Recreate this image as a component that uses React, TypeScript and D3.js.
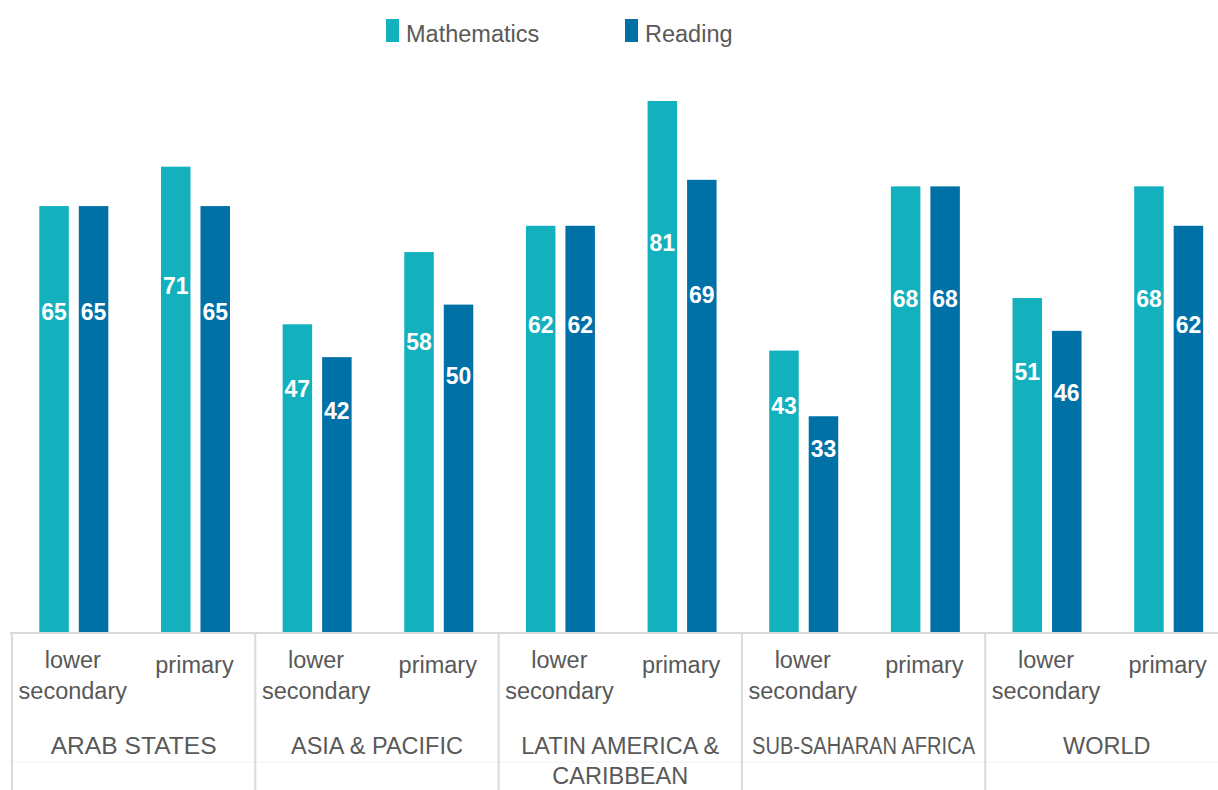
import * as d3 from 'd3';
import React, { useRef, useEffect } from 'react';

const regions = ['ARAB STATES', 'ASIA & PACIFIC', 'LATIN AMERICA & CARIBBEAN', 'SUB-SAHARAN AFRICA', 'WORLD'];
const regionLines = [['ARAB STATES'], ['ASIA & PACIFIC'], ['LATIN AMERICA &', 'CARIBBEAN'], ['SUB-SAHARAN AFRICA'], ['WORLD']];
const levels = ['lower secondary', 'primary'];
const levelLines = [['lower', 'secondary'], ['primary']];
const series = ['Mathematics', 'Reading'];
const colors = ['#13b1bd', '#0071a7'];

// values per region: [lower secondary, primary]
const mathematics = [[65, 71], [47, 58], [62, 81], [43, 68], [51, 68]];
const reading = [[65, 65], [42, 50], [62, 69], [33, 68], [46, 62]];

const W = 1218;
const H = 790;
const textColor = '#595959';
const gridColor = '#d9d9d9';
const font = '"Liberation Sans", Arial, sans-serif';

const Chart = () => {
    const ref = useRef();

    useEffect(() => {
        const svg = d3.select(ref.current);
        svg.selectAll('*').remove();

        const baseY = 633;
        const left = 12;
        const groupW = 243.3;

        const x = d3.scaleBand().domain(regions).range([left, left + groupW * regions.length]);
        const xSub = d3.scaleBand().domain(levels).range([0, groupW]);
        const y = d3.scaleLinear().domain([0, 81]).range([baseY, 101]);

        // bars
        const rows = [];
        regions.forEach((r, i) => {
            levels.forEach((l, j) => {
                const c = x(r) + xSub(l) + xSub.bandwidth() / 2 + 1;
                const xs = d3.scaleBand().domain(series).range([c - 34.5, c + 34.5]).paddingInner(0.253);
                [mathematics, reading].forEach((s, k) => {
                    rows.push({ x: xs(series[k]), w: xs.bandwidth(), v: s[i][j], color: colors[k] });
                });
            });
        });

        const g = svg.append('g');
        g.selectAll('rect.bar')
            .data(rows)
            .enter().append('rect')
            .attr('class', 'bar')
            .attr('x', d => d.x)
            .attr('width', d => d.w)
            .attr('y', d => y(d.v))
            .attr('height', d => baseY - y(d.v))
            .attr('fill', d => d.color);

        g.selectAll('text.val')
            .data(rows)
            .enter().append('text')
            .attr('class', 'val')
            .attr('x', d => d.x + d.w / 2)
            .attr('y', d => y(d.v * 0.654 + 5.8) - 2)
            .attr('text-anchor', 'middle')
            .attr('dominant-baseline', 'middle')
            .attr('fill', '#fff')
            .attr('font-weight', 'bold')
            .attr('font-size', 23)
            .attr('font-family', font)
            .text(d => d.v);

        // axis lines
        svg.append('line')
            .attr('x1', 10).attr('x2', W)
            .attr('y1', baseY).attr('y2', baseY)
            .attr('stroke', gridColor).attr('stroke-width', 2);
        svg.append('line')
            .attr('x1', 10).attr('x2', W)
            .attr('y1', 762).attr('y2', 762)
            .attr('stroke', '#f3f3f3').attr('stroke-width', 1);
        const seps = regions.map(r => x(r)).concat([x(regions[regions.length - 1]) + groupW]);
        svg.selectAll('line.sep')
            .data(seps)
            .enter().append('line')
            .attr('class', 'sep')
            .attr('x1', d => d).attr('x2', d => d)
            .attr('y1', baseY).attr('y2', H)
            .attr('stroke', gridColor).attr('stroke-width', 2);

        // level labels
        regions.forEach(r => {
            levels.forEach((l, j) => {
                const cx = x(r) + xSub(l) + xSub.bandwidth() / 2;
                const lines = levelLines[j];
                const t = svg.append('text')
                    .attr('text-anchor', 'middle')
                    .attr('fill', textColor)
                    .attr('font-size', 23.5)
                    .attr('font-family', font);
                lines.forEach((ln, k) => {
                    t.append('tspan')
                        .attr('x', cx)
                        .attr('y', lines.length === 1 ? 673 : 668 + k * 31)
                        .text(ln);
                });
            });
        });

        // region labels
        regions.forEach((r, i) => {
            const cx = x(r) + groupW / 2;
            regionLines[i].forEach((ln, k) => {
                const t = svg.append('text')
                    .attr('x', cx)
                    .attr('y', 754 + k * 30)
                    .attr('text-anchor', 'middle')
                    .attr('fill', textColor)
                    .attr('font-size', 23.5)
                    .attr('font-family', font)
                    .text(ln);
                if (r === 'SUB-SAHARAN AFRICA') {
                    t.attr('textLength', 223).attr('lengthAdjust', 'spacingAndGlyphs');
                }
                if (r === 'ARAB STATES') {
                    t.attr('textLength', 166).attr('lengthAdjust', 'spacingAndGlyphs');
                }
            });
        });

        // legend
        const legendX = [386, 625];
        const leg = svg.selectAll('g.leg')
            .data(series)
            .enter().append('g')
            .attr('class', 'leg')
            .attr('transform', (d, i) => `translate(${legendX[i]}, 0)`);
        leg.append('rect')
            .attr('x', 0).attr('y', 19)
            .attr('width', 13).attr('height', 23)
            .attr('fill', (d, i) => colors[i]);
        leg.append('text')
            .attr('x', 20).attr('y', 42)
            .attr('fill', textColor)
            .attr('font-size', 23.5)
            .attr('font-family', font)
            .text(d => d);
    }, []);

    return (
        <svg ref={ref} width={W} height={H} style={{ position: 'absolute', left: 0, top: 0, background: '#fff' }}>
        </svg>
    );
};

export default function App() {
    return <Chart />;
}
